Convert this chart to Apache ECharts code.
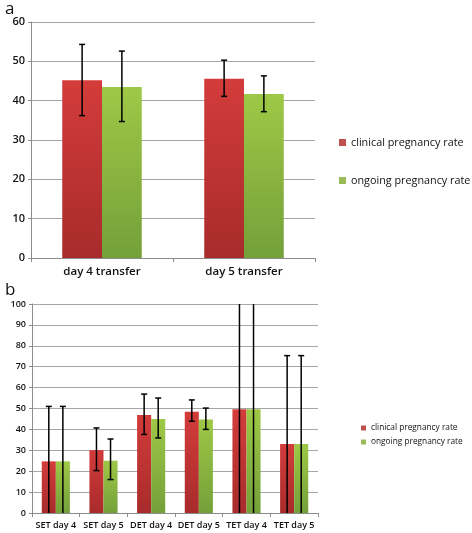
<!DOCTYPE html>
<html>
<head>
<meta charset="utf-8">
<script src="https://cdn.jsdelivr.net/npm/echarts@6/dist/echarts.min.js"></script>
<style>
  html, body { margin: 0; padding: 0; background: #fff; }
  #chart { width: 472px; height: 533px; }
</style>
</head>
<body>
<div id="chart"></div>
<script>
// panel a
var catsA = ['day 4 transfer', 'day 5 transfer'];
var clinA = [45.2, 45.6];
var clinA_lo = [36.2, 41.1];
var clinA_hi = [54.3, 50.3];
var ongA = [43.5, 41.7];
var ongA_lo = [34.7, 37.2];
var ongA_hi = [52.6, 46.3];

// panel b
var catsB = ['SET day 4', 'SET day 5', 'DET day 4', 'DET day 5', 'TET day 4', 'TET day 5'];
var clinB = [24.7, 30.1, 46.9, 48.5, 49.6, 33.0];
var clinB_lo = [0, 20.3, 37.6, 43.9, 0, 0];
var clinB_hi = [51.0, 40.7, 56.9, 54.1, 110, 75.3];
var ongB = [24.7, 25.0, 45.0, 44.7, 49.6, 33.0];
var ongB_lo = [0, 16.0, 35.9, 40.0, 0, 0];
var ongB_hi = [51.0, 35.4, 55.0, 50.2, 110, 75.3];

var redFill = new echarts.graphic.LinearGradient(0, 0, 0, 1, [
  { offset: 0, color: '#d33c3b' }, { offset: 1, color: '#a82b2b' }
]);
var greenFill = new echarts.graphic.LinearGradient(0, 0, 0, 1, [
  { offset: 0, color: '#9ec846' }, { offset: 1, color: '#74a03a' }
]);

function errData(lo, hi) {
  return lo.map(function (v, i) { return [i, v, hi[i]]; });
}

// error bar drawn at the bar centre, shift is a fraction of the category band
function errSeries(name, lo, hi, shift, gi, axMax) {
  return {
    type: 'custom',
    name: name + ' err',
    xAxisIndex: gi, yAxisIndex: gi,
    z: 5,
    clip: true,
    renderItem: function (params, api) {
      var x = api.value(0);
      var top = api.coord([x, Math.min(api.value(2), axMax)]);
      var bot = api.coord([x, api.value(1)]);
      var band = api.size([1, 0])[0];
      var cx = top[0] + band * shift;
      var cap = 3;
      var kids = [{
        type: 'line',
        shape: { x1: cx, y1: top[1], x2: cx, y2: bot[1] },
        style: { stroke: '#000', lineWidth: 1.5 }
      }];
      if (api.value(2) < axMax) {
        kids.push({ type: 'line', shape: { x1: cx - cap, y1: top[1], x2: cx + cap, y2: top[1] },
          style: { stroke: '#000', lineWidth: 1.5 } });
      }
      if (api.value(1) > 0) {
        kids.push({ type: 'line', shape: { x1: cx - cap, y1: bot[1], x2: cx + cap, y2: bot[1] },
          style: { stroke: '#000', lineWidth: 1.5 } });
      }
      return { type: 'group', children: kids };
    },
    data: errData(lo, hi),
    tooltip: { show: false }
  };
}

var font = '"Open Sans", "Liberation Sans", sans-serif';

function xAx(cats, gi, size, weight) {
  return {
    type: 'category', gridIndex: gi, data: cats,
    axisLine: { lineStyle: { color: '#8c8c8c', width: 1 } },
    axisTick: { show: true, length: 4, lineStyle: { color: '#8c8c8c' } },
    axisLabel: { color: '#111', fontFamily: font, fontSize: size, fontWeight: weight, margin: 8, interval: 0 }
  };
}
function yAx(gi, max, size) {
  return {
    type: 'value', gridIndex: gi, min: 0, max: max, interval: 10,
    axisLine: { show: true, lineStyle: { color: '#8c8c8c', width: 1 } },
    axisTick: { show: true, length: 3, lineStyle: { color: '#8c8c8c' } },
    splitLine: { lineStyle: { color: '#a6a6a6', width: 1.2 } },
    axisLabel: { color: '#111', fontFamily: font, fontSize: size, fontWeight: 600, margin: 6 }
  };
}

var chart = echarts.init(document.getElementById('chart'));
chart.setOption({
  animation: false,
  backgroundColor: '#fff',
  title: [
    { text: 'a', left: 0, top: -4, textStyle: { fontFamily: font, fontSize: 17, fontWeight: 'normal', color: '#111' } },
    { text: 'b', left: 0, top: 277, textStyle: { fontFamily: font, fontSize: 17, fontWeight: 'normal', color: '#111' } }
  ],
  legend: [
    {
      orient: 'vertical', left: 334, top: 132, itemGap: 27,
      itemWidth: 7, itemHeight: 7, icon: 'rect',
      textStyle: { fontFamily: font, fontSize: 10.8, color: '#111' },
      data: [
        { name: 'clinical pregnancy rate', itemStyle: { color: '#c0504d' } },
        { name: 'ongoing pregnancy rate', itemStyle: { color: '#9bbb59' } }
      ]
    },
    {
      orient: 'vertical', left: 356, top: 419, itemGap: 6,
      itemWidth: 5, itemHeight: 5, icon: 'rect',
      textStyle: { fontFamily: font, fontSize: 8.3, color: '#111' },
      data: [
        { name: 'clinical pregnancy rate ', itemStyle: { color: '#c0504d' } },
        { name: 'ongoing pregnancy rate ', itemStyle: { color: '#9bbb59' } }
      ]
    }
  ],
  grid: [
    { left: 31, top: 22, width: 284, height: 236 },
    { left: 32, top: 304, width: 286, height: 209 }
  ],
  xAxis: [xAx(catsA, 0, 11.5, 600), xAx(catsB, 1, 9, 600)],
  yAxis: [yAx(0, 60, 11), yAx(1, 100, 9)],
  series: [
    { type: 'bar', name: 'clinical pregnancy rate', xAxisIndex: 0, yAxisIndex: 0, data: clinA,
      barGap: '0%', barCategoryGap: '44%', itemStyle: { color: redFill } },
    { type: 'bar', name: 'ongoing pregnancy rate', xAxisIndex: 0, yAxisIndex: 0, data: ongA,
      barGap: '0%', barCategoryGap: '44%', itemStyle: { color: greenFill } },
    errSeries('clinA', clinA_lo, clinA_hi, -0.14, 0, 60),
    errSeries('ongA', ongA_lo, ongA_hi, 0.14, 0, 60),
    { type: 'bar', name: 'clinical pregnancy rate ', xAxisIndex: 1, yAxisIndex: 1, data: clinB,
      barGap: '0%', barCategoryGap: '41%', itemStyle: { color: redFill } },
    { type: 'bar', name: 'ongoing pregnancy rate ', xAxisIndex: 1, yAxisIndex: 1, data: ongB,
      barGap: '0%', barCategoryGap: '41%', itemStyle: { color: greenFill } },
    errSeries('clinB', clinB_lo, clinB_hi, -0.1475, 1, 100),
    errSeries('ongB', ongB_lo, ongB_hi, 0.1475, 1, 100)
  ]
});
</script>
</body>
</html>
